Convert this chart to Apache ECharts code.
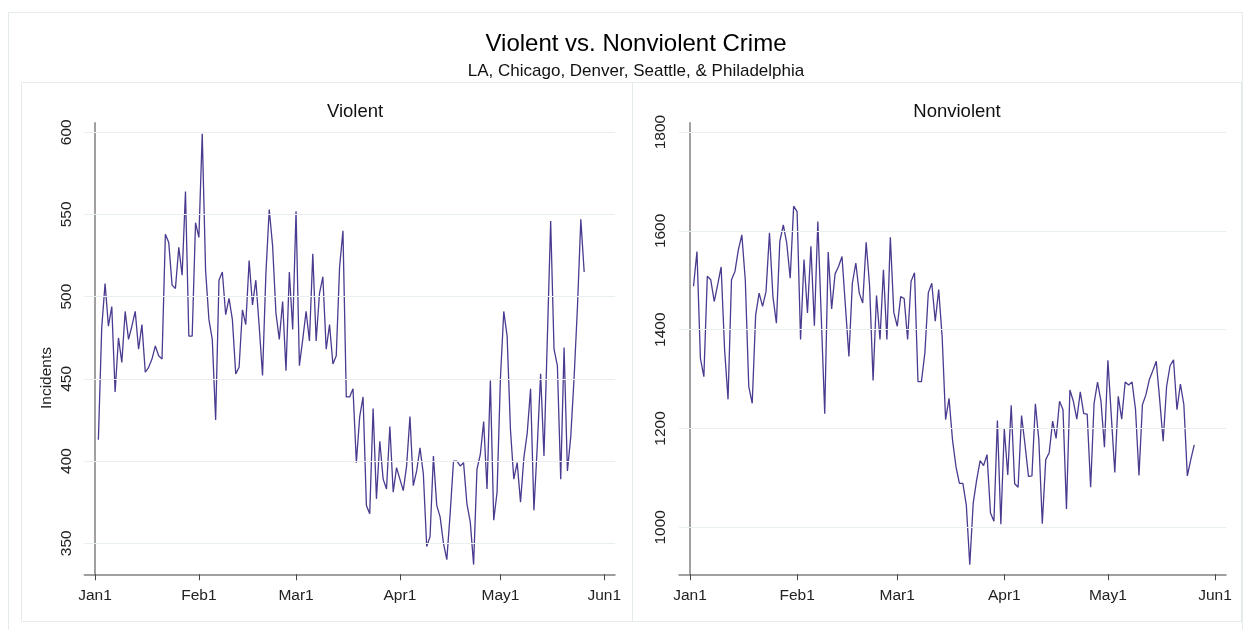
<!DOCTYPE html>
<html>
<head>
<meta charset="utf-8">
<style>
html,body{margin:0;padding:0;background:#fff;}
#chart{width:1244px;height:630px;}
</style>
<script src="https://cdn.jsdelivr.net/npm/echarts@6/dist/echarts.min.js"></script>
</head>
<body>
<div id="chart"></div>
<script>
// Daily incidents, starting 2 Jan (day offset 1 from Jan 1), through 27 May
const firstDayOffset = 1;
const violent = [
413,481,508,482,494,442,475,460,491,474,482,491,468,483,454,457,462,470,464,462,
538,533,507,505,530,513,564,476,476,545,536,599,516,486,474,425,510,515,489,499,
486,453,457,492,483,522,495,510,482,452,514,553,531,490,474,497,455,515,480,552,
458,474,491,473,526,473,502,512,468,483,459,464,518,540,439,439,444,399,427,439,
373,368,432,377,412,389,383,421,381,396,389,382,397,427,385,394,408,392,348,354,
403,373,366,350,340,368,400,400,397,399,374,363,337,395,404,424,383,449,364,381,
450,491,476,419,389,399,375,402,417,444,370,409,453,403,474,546,468,458,389,469,
394,415,451,494,547,515
];
const nonviolent = [
1488,1558,1342,1305,1508,1501,1457,1491,1527,1360,1259,1501,1518,1562,1592,1500,1285,1251,1430,1474,
1447,1477,1596,1467,1413,1579,1612,1575,1504,1650,1639,1380,1542,1434,1569,1408,1619,1425,1230,1557,
1442,1513,1528,1548,1447,1346,1494,1535,1474,1454,1577,1488,1297,1469,1380,1521,1380,1587,1435,1407,
1467,1463,1380,1498,1515,1295,1295,1353,1475,1494,1417,1481,1386,1218,1261,1177,1123,1089,1089,1045,
924,1049,1096,1135,1125,1147,1029,1012,1216,1006,1199,1106,1247,1088,1081,1226,1167,1103,1104,1250,
1177,1007,1137,1151,1215,1180,1255,1238,1037,1278,1255,1219,1274,1230,1229,1081,1251,1294,1255,1162,
1338,1224,1111,1265,1219,1294,1288,1294,1238,1105,1248,1268,1299,1317,1336,1258,1174,1285,1327,1339,
1238,1290,1248,1104,1137,1167
];
const monthLabels = ['Jan1','Feb1','Mar1','Apr1','May1','Jun1'];
const monthDays = [0,31,60,91,121,152];
const violentTicks = [350,400,450,500,550,600];
const nonviolentTicks = [1000,1200,1400,1600,1800];

const FONT = "'Liberation Sans', Arial, sans-serif";
const LINE = '#4b3a8f';
const GRIDC = '#e8eff0';
const AXISC = '#808080';

function toPairs(arr){ return arr.map((v,i)=>[i+firstDayOffset, v]); }

function xAxisCfg(idx){
  return {
    type:'value', gridIndex:idx, min:-3.2, max:155.2,
    axisLine:{show:true, lineStyle:{color:AXISC, width:1.5}},
    axisTick:{show:true, customValues:monthDays, length:6, lineStyle:{color:'#444'}},
    axisLabel:{customValues:monthDays, formatter:v=>monthLabels[monthDays.indexOf(v)],
      fontSize:15.5, color:'#222', margin:13, fontFamily:FONT},
    splitLine:{show:false}
  };
}
function yAxisCfg(idx, min, max, ticks){
  return {
    type:'value', gridIndex:idx, min:min, max:max,
    axisLine:{show:true, lineStyle:{color:AXISC, width:1.5}},
    axisTick:{show:true, customValues:ticks, length:6, lineStyle:{color:'#444'}},
    axisLabel:{customValues:ticks, formatter:v=>String(v), rotate:90, fontSize:15.5, color:'#222', margin:10, fontFamily:FONT},
    splitLine:{show:false}
  };
}
function gridSeries(idx, ticks){
  return {
    type:'line', xAxisIndex:idx, yAxisIndex:idx, data:[], z:1, silent:true,
    markLine:{silent:true, symbol:'none', label:{show:false},
      lineStyle:{color:GRIDC, type:'solid', width:1},
      emphasis:{disabled:true},
      data:ticks.map(t=>({yAxis:t}))}
  };
}
function dataSeries(idx, arr){
  return {
    type:'line', xAxisIndex:idx, yAxisIndex:idx, data:toPairs(arr), z:3,
    showSymbol:false, symbol:'none', lineStyle:{color:LINE, width:1.3}, animation:false
  };
}

const chart = echarts.init(document.getElementById('chart'), null, {renderer:'canvas'});
chart.setOption({
  animation:false,
  backgroundColor:'#ffffff',
  title:[
    {text:'Violent vs. Nonviolent Crime', left:631, top:27, textAlign:'center',
      textStyle:{fontSize:24, fontWeight:'normal', color:'#000', fontFamily:FONT}},
    {text:'LA, Chicago, Denver, Seattle, & Philadelphia', left:631, top:58, textAlign:'center',
      textStyle:{fontSize:17, fontWeight:'normal', color:'#111', fontFamily:FONT}},
    {text:'Violent', left:350, top:97, textAlign:'center',
      textStyle:{fontSize:18.5, fontWeight:'normal', color:'#111', fontFamily:FONT}},
    {text:'Nonviolent', left:952, top:97, textAlign:'center',
      textStyle:{fontSize:18.5, fontWeight:'normal', color:'#111', fontFamily:FONT}}
  ],
  graphic:[
    {type:'rect', shape:{x:8.5, y:12.5, width:1234, height:625}, style:{fill:'none', stroke:'#e3ebeb', lineWidth:1}, z:-10},
    {type:'rect', shape:{x:21.5, y:82.5, width:611, height:539}, style:{fill:'none', stroke:'#e3ebeb', lineWidth:1}, z:-10},
    {type:'rect', shape:{x:632.5, y:82.5, width:609, height:539}, style:{fill:'none', stroke:'#e3ebeb', lineWidth:1}, z:-10},
    {type:'text', x:47, y:378, rotation:Math.PI/2,
      style:{text:'Incidents', font:"15.5px 'Liberation Sans', Arial, sans-serif", fill:'#222', textAlign:'center', textVerticalAlign:'middle'}}
  ],
  grid:[
    {left:84.3, top:122.7, width:530.7, height:451.6, containLabel:false},
    {left:679, top:122.7, width:547, height:451.6, containLabel:false}
  ],
  xAxis:[xAxisCfg(0), xAxisCfg(1)],
  yAxis:[yAxisCfg(0, 331.1, 605.8, violentTicks), yAxisCfg(1, 904.8, 1819, nonviolentTicks)],
  series:[
    gridSeries(0, violentTicks), gridSeries(1, nonviolentTicks),
    dataSeries(0, violent), dataSeries(1, nonviolent)
  ]
});
</script>
</body>
</html>
